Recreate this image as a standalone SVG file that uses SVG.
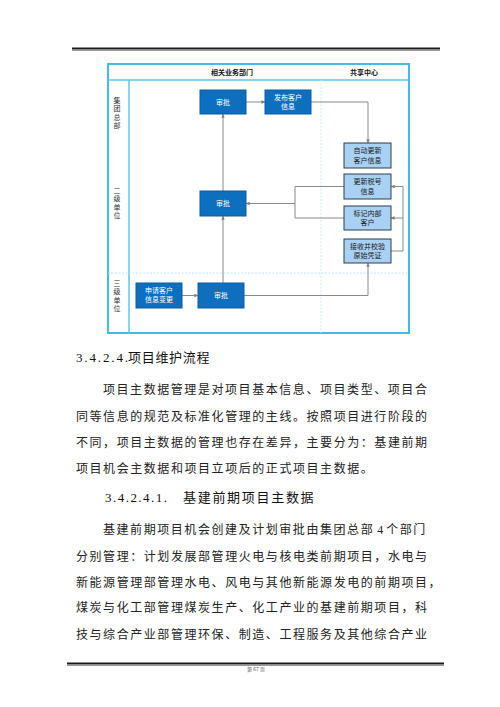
<svg xmlns="http://www.w3.org/2000/svg" width="500" height="707" viewBox="0 0 500 707">
<defs>
<marker id="ah" viewBox="0 0 6 6" refX="5.5" refY="3" markerWidth="4" markerHeight="4" orient="auto" markerUnits="userSpaceOnUse">
<path d="M0,0.5 L6,3 L0,5.5 Z" fill="#7f7f7f"/>
</marker>
</defs>
<style>
.dark{fill:#0E6FBF;stroke:#0A5C9F;stroke-width:1}
.light{fill:#A9D1F3;stroke:#2E3E4E;stroke-width:1}
.wt{font-family:"Noto Sans CJK SC",sans-serif;font-size:7px;fill:#fff;text-anchor:middle}
.bt{font-family:"Noto Sans CJK SC",sans-serif;font-size:7px;fill:#1a1a1a;text-anchor:middle}
.hd{font-family:"Noto Sans CJK SC",sans-serif;font-size:7px;font-weight:bold;fill:#111;text-anchor:middle}
.ln{font-family:"Noto Sans CJK SC",sans-serif;font-size:7px;fill:#333;text-anchor:middle;writing-mode:vertical-rl;letter-spacing:1.2px}
.c{fill:none;stroke:#8a8a8a;stroke-width:1}
.body{font-family:"Noto Sans CJK SC",sans-serif;font-size:12px;fill:#222;letter-spacing:1.56px}
.h{font-family:"Noto Sans CJK SC",sans-serif;font-size:13px;fill:#111}
</style>
<rect width="500" height="707" fill="#fff"/>
<line x1="72" y1="48.5" x2="440" y2="48.5" stroke="#1a1a1a" stroke-width="2"/>
<line x1="72" y1="50.5" x2="440" y2="50.5" stroke="#999" stroke-width="1"/>

<g id="frame">
<rect x="108" y="64" width="301" height="269" fill="#fff" stroke="#40BCE8" stroke-width="2"/>
<line x1="108" y1="80" x2="409" y2="80" stroke="#5CC6EC" stroke-width="1.5"/>
<line x1="129" y1="80" x2="129" y2="333" stroke="#5CC6EC" stroke-width="1.5"/>
<line x1="108" y1="273" x2="409" y2="273" stroke="#BFE6F7" stroke-width="1" stroke-dasharray="2,1.5"/>
<line x1="321" y1="80" x2="321" y2="333" stroke="#CBEBF8" stroke-width="1" stroke-dasharray="2,1.5"/>
<text class="hd" x="232" y="74.5">相关业务部门</text>
<text class="hd" x="364" y="74.5">共享中心</text>
</g>
<g id="lane1"><text class="ln" x="117" y="113.5">集团总部</text></g>
<g id="lane2"><text class="ln" x="117" y="203.5">二级单位</text></g>
<g id="lane3"><text class="ln" x="117" y="296.5">三级单位</text></g>

<g id="connectors">
<path class="c" d="M246,102 H265" marker-end="url(#ah)"/>
<path class="c" d="M311,102 H368 V143" marker-end="url(#ah)"/>
<path class="c" d="M223,191 V114" marker-end="url(#ah)"/>
<path class="c" d="M223,283 V216" marker-end="url(#ah)"/>
<path class="c" d="M182,295.5 H198" marker-end="url(#ah)"/>
<path class="c" d="M244,295.5 H368 V263" marker-end="url(#ah)"/>
<path class="c" d="M344,186.5 H295 V218 H344"/>
<path class="c" d="M295,203.5 H246" marker-end="url(#ah)"/>
<path class="c" d="M391,251 H403 V186.5 H391" marker-end="url(#ah)"/>
<path class="c" d="M403,218 H391" marker-end="url(#ah)"/>
</g>

<g id="n1"><rect class="dark" x="200" y="90" width="46" height="24"/><text class="wt" x="223" y="104.5">审批</text></g>
<g id="n2"><rect class="dark" x="265" y="90" width="46" height="24"/><text class="wt" x="288" y="99.5">发布客户</text><text class="wt" x="288" y="109">信息</text></g>
<g id="n3"><rect class="light" x="344" y="143" width="47" height="25"/><text class="bt" x="367.5" y="153">自动更新</text><text class="bt" x="367.5" y="162.5">客户信息</text></g>
<g id="n4"><rect class="light" x="344" y="174" width="47" height="25"/><text class="bt" x="367.5" y="184">更新税号</text><text class="bt" x="367.5" y="193.5">信息</text></g>
<g id="n5"><rect class="light" x="344" y="206" width="47" height="24"/><text class="bt" x="367.5" y="215.5">标记内部</text><text class="bt" x="367.5" y="225">客户</text></g>
<g id="n6"><rect class="light" x="344" y="239" width="47" height="24"/><text class="bt" x="367.5" y="248.5">接收并校验</text><text class="bt" x="367.5" y="258">原始凭证</text></g>
<g id="n7"><rect class="dark" x="200" y="191" width="46" height="25"/><text class="wt" x="223" y="206">审批</text></g>
<g id="n8"><rect class="dark" x="136" y="283" width="46" height="25"/><text class="wt" x="159" y="292.5">申请客户</text><text class="wt" x="159" y="302">信息变更</text></g>
<g id="n9"><rect class="dark" x="198" y="283" width="46" height="25"/><text class="wt" x="221" y="298">审批</text></g>

<text class="h" x="76" y="362"><tspan font-family="Liberation Serif" textLength="52" lengthAdjust="spacing">3.4.2.4.</tspan><tspan x="128" letter-spacing="0.7">项目维护流程</tspan></text>
<text class="body" x="103" y="394">项目主数据管理是对项目基本信息、项目类型、项目合</text>
<text class="body" x="76" y="421">同等信息的规范及标准化管理的主线。按照项目进行阶段的</text>
<text class="body" x="76" y="447">不同，项目主数据的管理也存在差异，主要分为：基建前期</text>
<text class="body" x="76" y="473">项目机会主数据和项目立项后的正式项目主数据。</text>
<text class="h" x="105" y="502"><tspan font-family="Liberation Serif" textLength="62" lengthAdjust="spacing">3.4.2.4.1.</tspan><tspan x="183" letter-spacing="1.7">基建前期项目主数据</tspan></text>
<text class="body" x="103" y="534">基建前期项目机会创建及计划审批由集团总部<tspan font-family="Liberation Serif" letter-spacing="0"> 4 </tspan>个部门</text>
<text class="body" x="76" y="561">分别管理：计划发展部管理火电与核电类前期项目，水电与</text>
<text class="body" x="76" y="587">新能源管理部管理水电、风电与其他新能源发电的前期项目，</text>
<text class="body" x="76" y="612">煤炭与化工部管理煤炭生产、化工产业的基建前期项目，科</text>
<text class="body" x="76" y="639">技与综合产业部管理环保、制造、工程服务及其他综合产业</text>

<line x1="67" y1="663.5" x2="444" y2="663.5" stroke="#1a1a1a" stroke-width="2"/>
<line x1="67" y1="665.5" x2="444" y2="665.5" stroke="#999" stroke-width="1"/>
<text x="256" y="670.5" font-family="Noto Sans CJK SC,sans-serif" font-size="5" fill="#555" text-anchor="middle">第 67 页</text>
</svg>
